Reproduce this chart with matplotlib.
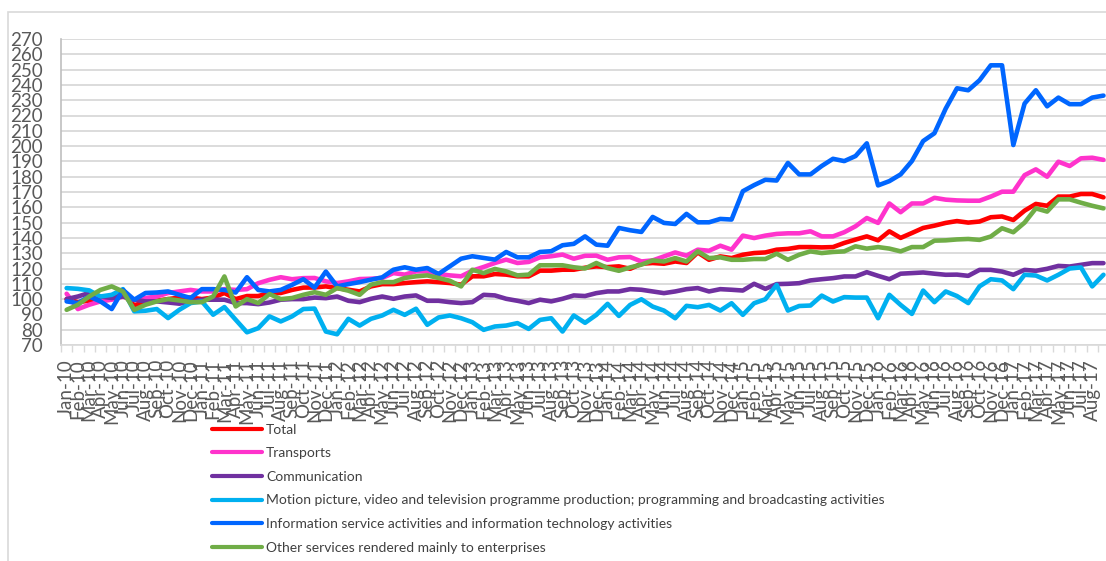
import matplotlib
matplotlib.use("Agg")
import matplotlib.pyplot as plt
from matplotlib.patches import Rectangle
from matplotlib.ticker import FixedLocator

plt.rcParams['font.family'] = ['Lato', 'DejaVu Sans']

month_names = ["Jan", "Feb", "Mar", "Apr", "May", "Jun", "Jul", "Aug", "Sep", "Oct", "Nov", "Dec"]
years = ["10", "11", "12", "13", "14", "15", "16", "17"]
# labels Jan-10 .. Aug-17 (Sep-17 point exists but is cropped off at the right edge)
tick_labels = [f"{m}-{y}" for y in years for m in month_names][:92]

total = [100, 98, 99, 100, 101, 103, 96, 98, 99, 100, 101, 101, 100, 101, 104, 100, 102, 102, 104, 104,
         106, 107.5, 107.6, 108.3, 107.2, 106.1, 105, 108.3, 109.8, 109.8, 110.5, 111.1, 111.6, 111.1, 110.5,
         109.4, 114.9, 114.9, 116.4, 116, 114.9, 114.9, 118.6, 118.6, 119.2, 119.2, 120.5, 121.4, 120.9, 121.4,
         119.8, 123.1, 123.6, 123.1, 124.6, 123.6, 130.5, 125.7, 127.9, 126.8, 129, 130.1, 130.5, 132.3, 132.8,
         134, 134, 133.8, 134, 136.7, 138.9, 141, 138.4, 144.3, 140, 143.2, 146.5, 148, 149.8, 151, 150, 150.7,
         153.5, 154, 151.7, 157.8, 162.2, 161, 167, 167, 168.7, 168.7, 166.5]

transports = [103.5, 93.5, 96.3, 98.5, 99.6, 101.7, 99.6, 100.7, 101.7, 104, 105, 106, 105, 105, 106.5, 106,
              106.5, 110.4, 112.6, 114.3, 113, 113.7, 113.8, 111.6, 110.5, 111.6, 113.1, 113.3, 113.8, 117, 116,
              118.1, 118.1, 116.4, 115.5, 114.9, 118.6, 121, 123.6, 125.8, 123.6, 124.3, 127.3, 128, 129.1, 126.4,
              128.3, 128.4, 125.7, 127.3, 127.5, 124.6, 125.3, 127.9, 130.5, 128.4, 132.3, 131.6, 134.9, 132.3,
              141.5, 139.9, 141.5, 142.6, 143, 143, 144.3, 141, 141, 143.7, 147.6, 153, 149.8, 162.5, 156.8, 162.5,
              162.5, 166.2, 165, 164.5, 164.3, 164.3, 167, 170.2, 170.2, 181, 184.8, 180, 189.8, 187, 192, 192.4, 191]

communication = [100, 101.7, 104, 101.7, 100.7, 101.7, 99.6, 98.5, 98.5, 97.8, 97, 98.5, 99.6, 99.6, 99.6, 97.4,
                 97.4, 96.7, 97.8, 99.6, 100, 100, 101, 100.6, 101.7, 98.9, 98, 100.2, 101.7, 100.2, 101.7, 102.4,
                 98.9, 98.9, 98, 97.4, 98, 102.8, 102.4, 100.2, 98.9, 97.4, 99.6, 98.5, 100.2, 102.4, 102, 103.9,
                 105, 105, 106.5, 106.1, 105, 103.9, 105, 106.5, 107.2, 105, 106.5, 106.1, 105.6, 110, 106.7, 109.8,
                 110, 110.4, 112.2, 113, 113.7, 114.8, 114.8, 117.6, 115.2, 113, 116.6, 117, 117.4, 116.6, 115.9,
                 116, 115.2, 119.1, 119.1, 118, 115.9, 119.1, 118.5, 119.8, 121.7, 121.3, 122.4, 123.5, 123.5]

motion_picture = [107.2, 106.7, 105.7, 101.7, 102.8, 106.5, 92, 92.4, 93.5, 87.6, 93, 97.4, 98.5, 89.8, 94.8, 86.5,
                  78.3, 81, 88.7, 85.4, 88.7, 93.5, 93.8, 78.8, 77, 87.1, 82.7, 87.1, 89.3, 93, 89.7, 93.7, 83.2,
                  88, 89.3, 87.5, 84.9, 79.9, 82.1, 82.7, 84.3, 80.5, 86.4, 87.5, 78.8, 89.3, 84.5, 89.7, 96.9, 89,
                  96.2, 99.9, 95.1, 92.5, 87.5, 95.6, 94.7, 96.2, 92.5, 97.3, 89.7, 97.3, 99.9, 109.3, 92.5, 95.5,
                  95.8, 102.3, 98.4, 101.3, 101, 101, 87.5, 102.8, 96.2, 90.3, 105.6, 98, 105, 102, 97.4, 108.3, 113,
                  112.2, 106.5, 115.9, 115.4, 112.2, 115.9, 120, 120.7, 108.3, 115.9]

information = [98.5, 97.4, 101.7, 98.5, 93.5, 106, 99.6, 104, 104.3, 105, 102.8, 100.7, 106.5, 106.5, 106, 104.3,
               114.3, 106, 105, 106, 109.3, 113, 107.5, 118, 108.3, 109.8, 111.1, 112.7, 114.2, 119.2, 120.8, 119.2,
               120.3, 116.4, 121.4, 126.4, 128, 126.9, 125.8, 130.8, 127.3, 127.3, 130.8, 131.3, 135.2, 136.1, 141,
               135.6, 134.9, 146.5, 145, 143.9, 153.7, 149.8, 149.1, 155.7, 150.2, 150.2, 152.4, 152, 170.5, 174.5,
               178, 177.5, 189, 181.5, 181.5, 187, 191.7, 190.2, 193.5, 201.8, 174.3, 177.1, 181.5, 190.2, 203.3,
               208.4, 224.5, 237.8, 236.5, 243, 252.8, 252.8, 200.7, 227.8, 236.5, 226, 231.7, 227.4, 227.4, 231.7, 233]

other_services = [93, 96.3, 101.7, 106, 108.3, 105, 93, 96.3, 98.5, 100, 99.1, 98, 98, 101.7, 114.8, 95.2, 100,
                  97.4, 103.3, 100, 100.7, 102.8, 104.5, 102.8, 107.2, 105.5, 102.8, 109.4, 111.1, 111.1, 113.8,
                  114.9, 115.5, 113.8, 112, 108.3, 119.2, 117, 119.7, 118.1, 115.5, 116, 122.1, 122.1, 122.1, 120.8,
                  120, 123.6, 120.3, 118.5, 120.7, 122.5, 125.3, 124.6, 126.8, 124.6, 131.2, 126.8, 127.3, 125.7,
                  125.7, 126.2, 126.2, 129.7, 125.7, 129, 131.2, 130.1, 130.8, 131.2, 134.5, 133, 134, 133, 131.2,
                  134, 134, 138.2, 138.4, 139, 139.3, 138.7, 140.9, 146.3, 143.7, 150, 159.3, 157.2, 165.2, 165.2,
                  163, 161, 159.3]

series_names = ["Total", "Transports", "Communication",
                "Motion picture, video and television programme production; programming and broadcasting activities",
                "Information service activities and information technology activities",
                "Other services rendered mainly to enterprises"]
series_values = [total, transports, communication, motion_picture, information, other_services]
series_colors = ["#FF0000", "#FF33CC", "#7030A0", "#00B0F0", "#0066FF", "#70AD47"]

W, H = 1106, 561
fig = plt.figure(figsize=(W / 100, H / 100), dpi=100)

# outer chart border (cropped at right and bottom)
fig.patches.append(Rectangle((8 / W, -0.1), 1.2, 1 - 12 / H + 0.1, transform=fig.transFigure,
                             fill=False, edgecolor="#D9D9D9", linewidth=1.2))

ax = fig.add_axes([61 / W, 1 - 345 / H, (W - 61) / W, (345 - 39) / H])

handles = []
for name, vals, col in zip(series_names, series_values, series_colors):
    h, = ax.plot(range(len(vals)), vals, color=col, linewidth=3.3, solid_joinstyle="round",
                 solid_capstyle="round", label=name, clip_on=True)
    handles.append(h)

ax.set_ylim(70, 270)
ax.set_yticks(range(70, 271, 10))
ax.set_xlim(-0.5, -0.5 + (W - 61) / 11.27)
ax.yaxis.grid(True, color="#D9D9D9", linewidth=1.3)
ax.set_axisbelow(True)

ax.set_xticks(range(len(tick_labels)))
ax.set_xticklabels(tick_labels, rotation=90, fontsize=13.5, color="#595959")
ax.xaxis.set_minor_locator(FixedLocator([k - 0.5 for k in range(0, 94)]))
ax.tick_params(axis="x", which="major", length=0, pad=10)
ax.tick_params(axis="x", which="minor", length=5, width=1, color="#D9D9D9")
ax.tick_params(axis="y", length=0, pad=13, labelsize=13.5, labelcolor="#595959")

for s in ["top", "right"]:
    ax.spines[s].set_visible(False)
ax.spines["left"].set_color("#BFBFBF")
ax.spines["bottom"].set_color("#D9D9D9")
ax.spines["left"].set_linewidth(1.2)
ax.spines["bottom"].set_linewidth(1.2)

leg = fig.legend(handles=handles, loc="upper left", bbox_to_anchor=(212 / W, 1 - 423.5 / H),
                 frameon=False, fontsize=10, borderpad=0, borderaxespad=0,
                 handlelength=3.6, handletextpad=0.3, labelspacing=0.84)
for t in leg.get_texts():
    t.set_color("#404040")
for lh in leg.get_lines():
    lh.set_linewidth(3.0)

fig.savefig("out.png", dpi=100)
